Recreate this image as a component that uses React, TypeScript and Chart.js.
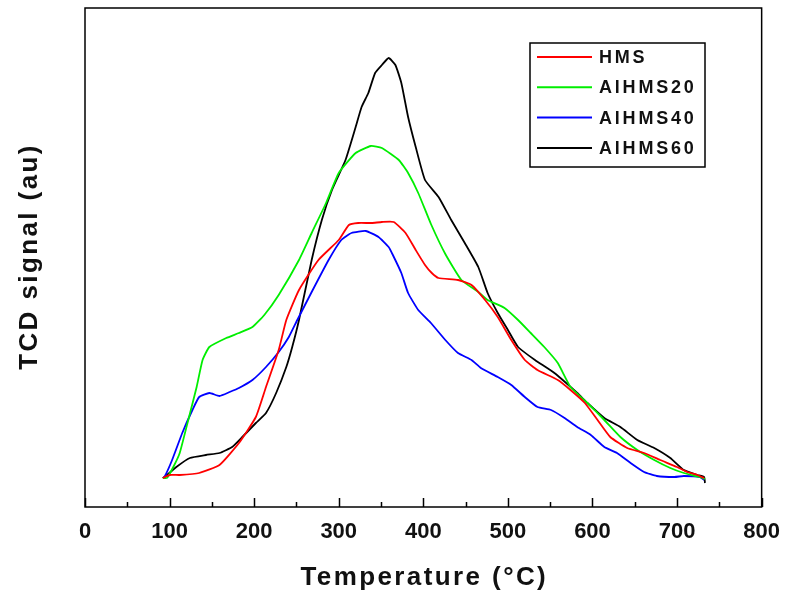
import React, { useEffect, useRef } from "react";
import { Chart, registerables } from "chart.js";

Chart.register(...registerables);

// ---------- data (temperature °C, TCD signal in arbitrary units) ----------
const seriesLabels = ["HMS", "AlHMS20", "AlHMS40", "AlHMS60"];
const seriesColors = ["#ff0000", "#00ee00", "#0000ff", "#000000"];

const hmsT = [92, 100, 112, 135, 159, 182, 202, 214, 229, 238, 253, 276, 300, 312, 323, 339, 351, 365, 379, 391, 402, 410, 418, 441, 457, 473, 488, 504, 520, 535, 559, 574, 591, 606, 621, 641, 661, 680, 700, 712, 724, 732];
const hmsY = [28, 31, 31, 33, 41, 63, 89, 119, 156, 186, 216, 246, 266, 281, 283, 283, 284, 284, 273, 256, 241, 233, 228, 226, 221, 206, 189, 166, 146, 136, 126, 116, 103, 86, 69, 58, 53, 46, 39, 34, 31, 28];

const al20T = [92, 97, 105, 112, 123, 132, 139, 147, 167, 182, 198, 212, 229, 253, 268, 285, 300, 320, 338, 351, 371, 382, 394, 409, 426, 445, 465, 476, 496, 512, 527, 543, 559, 574, 594, 614, 633, 653, 673, 692, 708, 727, 733];
const al20Y = [28, 28, 40, 53, 89, 119, 146, 159, 168, 173, 179, 191, 211, 246, 273, 303, 333, 353, 360, 358, 346, 333, 313, 282, 252, 226, 214, 206, 198, 186, 173, 159, 143, 119, 103, 86, 69, 56, 46, 38, 33, 29, 27];

const al40T = [92, 94, 103, 115, 127, 135, 147, 159, 171, 182, 198, 214, 229, 241, 251, 268, 288, 303, 315, 332, 347, 359, 364, 374, 382, 394, 409, 426, 441, 457, 468, 488, 504, 520, 535, 551, 567, 582, 598, 614, 629, 645, 661, 676, 697, 708, 727, 732];
const al40Y = [28, 29, 46, 73, 96, 109, 113, 110, 114, 118, 126, 139, 154, 169, 186, 214, 246, 266, 273, 275, 269, 259, 251, 233, 213, 196, 183, 166, 153, 146, 138, 129, 121, 109, 99, 96, 88, 79, 71, 59, 53, 43, 34, 30, 29, 30, 29, 26];

const al60T = [92, 94, 108, 124, 143, 159, 174, 186, 202, 214, 226, 238, 245, 253, 268, 280, 292, 308, 320, 327, 335, 343, 351, 359, 367, 374, 382, 391, 402, 418, 433, 449, 465, 476, 488, 500, 512, 532, 555, 582, 594, 614, 633, 653, 673, 692, 708, 724, 732, 733];
const al60Y = [28, 29, 39, 48, 51, 53, 59, 69, 83, 93, 113, 139, 159, 186, 246, 286, 316, 346, 379, 399, 413, 433, 441, 448, 441, 423, 389, 359, 326, 309, 286, 263, 239, 213, 193, 176, 159, 146, 133, 113, 103, 88, 79, 66, 58, 48, 36, 31, 29, 23];

const majorTicks = [0, 100, 200, 300, 400, 500, 600, 700, 800];
const minorTicks = [50, 150, 250, 350, 450, 550, 650, 750];

const xTitle = "Temperature (°C)";
const yTitle = "TCD signal (au)";

const FONT = "'Liberation Sans', Arial, sans-serif";

const zip = (xs: number[], ys: number[]) => xs.map((x, i) => ({ x, y: ys[i] }));

const decorPlugin = {
  id: "decor",
  afterDraw(chart: any) {
    const { ctx, chartArea: a, scales } = chart;
    const xs = scales.x;
    ctx.save();
    // frame
    ctx.strokeStyle = "#000";
    ctx.lineWidth = 1.5;
    ctx.strokeRect(a.left, a.top, a.right - a.left, a.bottom - a.top);
    // inward ticks
    ctx.lineWidth = 1.5;
    ctx.beginPath();
    for (const v of majorTicks) {
      const px = Math.round(xs.getPixelForValue(v)) + 0.5;
      ctx.moveTo(px, a.bottom);
      ctx.lineTo(px, a.bottom - 9);
    }
    for (const v of minorTicks) {
      const px = Math.round(xs.getPixelForValue(v)) + 0.5;
      ctx.moveTo(px, a.bottom);
      ctx.lineTo(px, a.bottom - 5);
    }
    ctx.stroke();

    // legend
    const lx = 530, ly = 43, lw = 175, lh = 124;
    ctx.fillStyle = "#fff";
    ctx.fillRect(lx, ly, lw, lh);
    ctx.strokeStyle = "#000";
    ctx.lineWidth = 1.5;
    ctx.strokeRect(lx, ly, lw, lh);
    ctx.font = `bold 18px ${FONT}`;
    (ctx as any).letterSpacing = "2.8px";
    ctx.textAlign = "left";
    ctx.textBaseline = "middle";
    chart.data.datasets.forEach((ds: any, i: number) => {
      const y = ly + 14 + i * 30.3;
      ctx.strokeStyle = ds.borderColor;
      ctx.lineWidth = 2;
      ctx.beginPath();
      ctx.moveTo(lx + 7, y);
      ctx.lineTo(lx + 62, y);
      ctx.stroke();
      ctx.fillStyle = "#111";
      ctx.fillText(ds.label, lx + 69, y + 1);
    });

    // axis titles
    ctx.fillStyle = "#111";
    ctx.font = `bold 26px ${FONT}`;
    (ctx as any).letterSpacing = "2.4px";
    ctx.textAlign = "center";
    ctx.textBaseline = "middle";
    ctx.fillText(xTitle, (a.left + a.right) / 2 + 1, 578);
    ctx.translate(30, (a.top + a.bottom) / 2);
    ctx.rotate(-Math.PI / 2);
    ctx.fillText(yTitle, 1, 0);
    ctx.restore();
  },
};

export default function App() {
  const ref = useRef<HTMLCanvasElement | null>(null);
  useEffect(() => {
    if (!ref.current) return;
    const series = [zip(hmsT, hmsY), zip(al20T, al20Y), zip(al40T, al40Y), zip(al60T, al60Y)];
    const chart = new Chart(ref.current, {
      type: "line",
      data: {
        datasets: series.map((d, i) => ({
          label: seriesLabels[i],
          data: d,
          borderColor: seriesColors[i],
          backgroundColor: seriesColors[i],
          borderWidth: 1.8,
          pointRadius: 0,
          tension: 0.15,
          fill: false,
        })),
      },
      options: {
        responsive: false,
        animation: false,
        layout: { padding: { left: 85, right: 27, top: 8, bottom: 0 } },
        plugins: { legend: { display: false }, tooltip: { enabled: false }, title: { display: false } },
        scales: {
          x: {
            type: "linear",
            min: 0,
            max: 800,
            grid: { display: false, drawTicks: false },
            border: { display: false },
            ticks: {
              stepSize: 100,
              autoSkip: false,
              maxRotation: 0,
              padding: 12,
              color: "#111",
              font: { family: FONT, size: 22, weight: "bold" },
            },
            afterFit: (s: any) => {
              s.height = 596 - 507;
            },
          },
          y: {
            display: false,
            min: -1,
            max: 498,
          },
        },
      },
      plugins: [decorPlugin],
    });
    return () => chart.destroy();
  }, []);
  return (
    <div style={{ position: "fixed", left: 0, top: 0, width: 792, height: 596, background: "#fff" }}>
      <canvas ref={ref} width={792} height={596} style={{ width: 792, height: 596, display: "block" }} />
    </div>
  );
}
